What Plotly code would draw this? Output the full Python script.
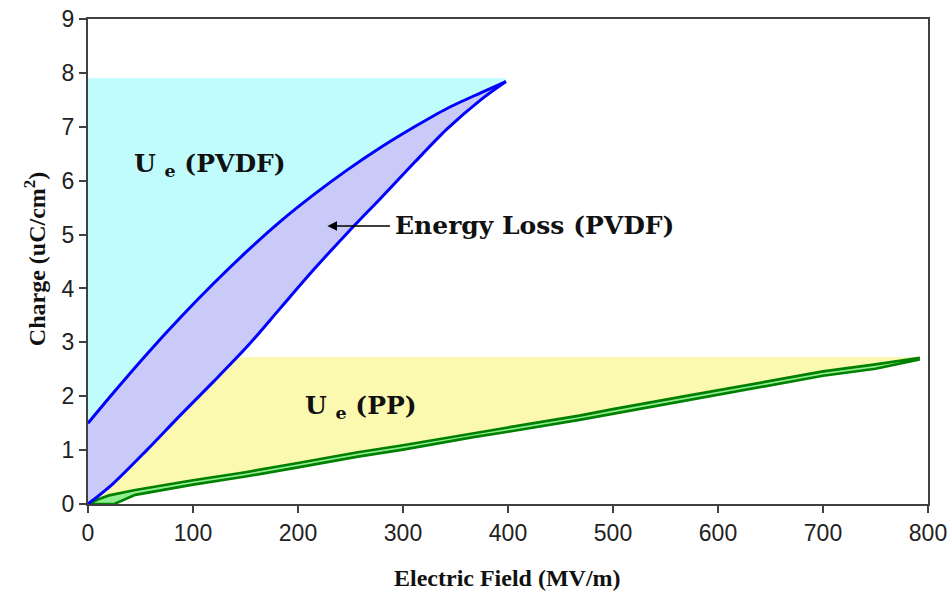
import plotly.graph_objects as go

# ---- data ----
pvdf_up_x = [0, 24, 56, 88, 120, 152, 183, 215, 247, 279, 311, 342, 374, 398]
pvdf_up_y = [1.50, 2.06, 2.78, 3.46, 4.10, 4.70, 5.24, 5.74, 6.20, 6.62, 7.00, 7.34, 7.63, 7.84]

pvdf_lo_x = [0, 24, 56, 88, 120, 152, 183, 215, 247, 279, 311, 342, 374, 398]
pvdf_lo_y = [0.0, 0.38, 1.0, 1.65, 2.28, 2.93, 3.63, 4.35, 5.03, 5.68, 6.34, 6.96, 7.50, 7.84]

pp_up_x = [0, 10, 20, 45, 100, 150, 200, 257, 300, 367, 400, 468, 500, 574, 600, 680, 700, 750, 791]
pp_up_y = [0.0, 0.09, 0.16, 0.26, 0.44, 0.59, 0.76, 0.96, 1.09, 1.32, 1.42, 1.64, 1.76, 2.02, 2.11, 2.39, 2.46, 2.59, 2.71]

pp_lo_x = [25, 45, 100, 150, 200, 257, 300, 367, 400, 468, 500, 574, 600, 680, 700, 750, 791]
pp_lo_y = [0.0, 0.17, 0.36, 0.51, 0.68, 0.88, 1.01, 1.24, 1.34, 1.56, 1.68, 1.94, 2.03, 2.31, 2.38, 2.51, 2.68]

ue_pvdf_top = 7.90
ue_pp_top = 2.73

x_ticks = [0, 100, 200, 300, 400, 500, 600, 700, 800]
y_ticks = [0, 1, 2, 3, 4, 5, 6, 7, 8, 9]

CYAN = "#c0fcfc"
LAV = "#cacaf8"
YEL = "#fbf8b0"
BLUE = "#0000ff"
DGREEN = "#008000"
LGREEN = "#90ee90"

fig = go.Figure()

# yellow U_e (PP) region
fig.add_trace(go.Scatter(
    x=pp_up_x + [0], y=pp_up_y[:-1] + [ue_pp_top, ue_pp_top],
    fill="toself", fillcolor=YEL, mode="none", hoverinfo="skip", showlegend=False))

# cyan U_e (PVDF) region
fig.add_trace(go.Scatter(
    x=pvdf_up_x + [pvdf_up_x[-1], 0], y=pvdf_up_y + [ue_pvdf_top, ue_pvdf_top],
    fill="toself", fillcolor=CYAN, mode="none", hoverinfo="skip", showlegend=False))

# lavender energy-loss loop
fig.add_trace(go.Scatter(
    x=pvdf_lo_x + pvdf_up_x[::-1], y=pvdf_lo_y + pvdf_up_y[::-1],
    fill="toself", fillcolor=LAV, mode="none", hoverinfo="skip", showlegend=False))

# PP loop (green)
fig.add_trace(go.Scatter(
    x=pp_up_x + pp_lo_x[::-1] + [0], y=pp_up_y + pp_lo_y[::-1] + [0],
    fill="toself", fillcolor=LGREEN, mode="lines",
    line=dict(color=DGREEN, width=2.7), hoverinfo="skip", showlegend=False))

# PVDF branches
fig.add_trace(go.Scatter(x=pvdf_up_x, y=pvdf_up_y, mode="lines",
                         line=dict(color=BLUE, width=3, shape="spline", smoothing=0.8),
                         showlegend=False))
fig.add_trace(go.Scatter(x=pvdf_lo_x, y=pvdf_lo_y, mode="lines",
                         line=dict(color=BLUE, width=3, shape="spline", smoothing=0.8),
                         showlegend=False))

ann_font = dict(family="DejaVu Serif, Liberation Serif, serif", size=25,
                color="#111111", weight="bold")

fig.add_annotation(x=116, y=6.29, text="U <sub>e</sub> (PVDF)", showarrow=False,
                   font=ann_font, xref="x", yref="y")
fig.add_annotation(x=260, y=1.80, text="U <sub>e</sub> (PP)", showarrow=False,
                   font=ann_font, xref="x", yref="y")
fig.add_annotation(x=290, y=5.16, text="Energy Loss (PVDF)", showarrow=False,
                   xanchor="left", font=ann_font, xref="x", yref="y")
fig.add_annotation(x=228, y=5.16, ax=289, ay=5.16, xref="x", yref="y",
                   axref="x", ayref="y", text="", showarrow=True,
                   arrowhead=2, arrowsize=1.2, arrowwidth=1.6, arrowcolor="#000000")

title_font = dict(family="Liberation Serif, Times New Roman, serif", size=24, color="#111111")

# axis titles (placed in paper coordinates)
fig.add_annotation(x=-0.063, y=0.505, xref="paper", yref="paper", textangle=-90,
                   xanchor="center", yanchor="middle",
                   text="<b>Charge (uC/cm<sup>2</sup>)</b>", showarrow=False, font=title_font)
fig.add_annotation(x=0.499, y=-0.1526, xref="paper", yref="paper",
                   xanchor="center", yanchor="middle",
                   text="<b>Electric Field (MV/m)</b>", showarrow=False, font=title_font)

tick_font = dict(family="Liberation Sans, Arial, sans-serif", size=23, color="#222222")

fig.update_xaxes(range=[0, 800], tickvals=x_ticks, ticks="outside", ticklen=7,
                 tickwidth=1.5, tickcolor="#404040", showline=True, linewidth=2,
                 linecolor="#404040", mirror=True, showgrid=False, zeroline=False,
                 tickfont=tick_font, automargin=False)
fig.update_yaxes(range=[0, 9], tickvals=y_ticks, ticks="outside", ticklen=7,
                 tickwidth=1.5, tickcolor="#404040", showline=True, linewidth=2,
                 linecolor="#404040", mirror=True, showgrid=False, zeroline=False,
                 tickfont=tick_font, automargin=False)

fig.update_layout(width=951, height=593, plot_bgcolor="white", paper_bgcolor="white",
                  margin=dict(l=88, r=23, t=19, b=89), showlegend=False)

fig.write_html("out.html")
